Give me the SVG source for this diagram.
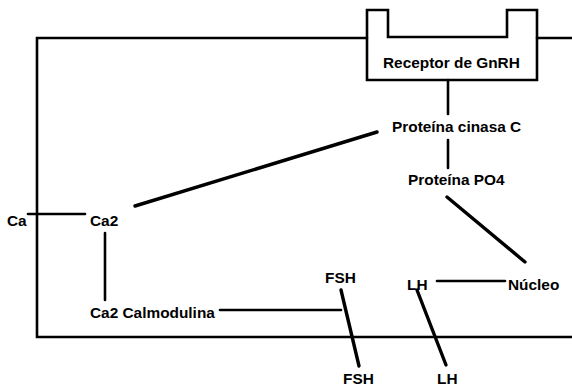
<svg xmlns="http://www.w3.org/2000/svg" width="572" height="386" viewBox="0 0 572 386">
<style>
  text { font-family: "Liberation Sans", Arial, sans-serif; font-weight: bold; font-size: 15.4px; fill: #000; }
  .ln { fill: none; stroke: #000; stroke-width: 2.6; stroke-linecap: round; stroke-linejoin: miter; }
  .thick { stroke-width: 3.4; }
</style>
<rect width="572" height="386" fill="#fff"/>
<g id="cell">
  <path class="ln" d="M367 38 H37 V337 H572 M537 38 H572"/>
</g>
<g id="receptor">
  <path class="ln" d="M388 10 V37 H507 V10 H537 V80 H367 V10 Z"/>
  <text x="383" y="68">Receptor de GnRH</text>
</g>
<g id="pkc"><text x="392" y="132">Proteína cinasa C</text></g>
<g id="po4"><text x="408" y="185">Proteína PO4</text></g>
<g id="ca"><text x="7" y="226">Ca</text></g>
<g id="ca2"><text x="90" y="226">Ca2</text></g>
<g id="calmodulina"><text x="90" y="318">Ca2 Calmodulina</text></g>
<g id="fsh-in"><text x="325" y="283">FSH</text></g>
<g id="fsh-out"><text x="343" y="384">FSH</text></g>
<g id="lh-in"><text x="407" y="290">LH</text></g>
<g id="lh-out"><text x="437" y="384">LH</text></g>
<g id="nucleo"><text x="508" y="290">Núcleo</text></g>
<g id="connectors">
  <path class="ln" d="M448 80 V114"/>
  <path class="ln" d="M448 140 V168"/>
  <path class="ln thick" d="M135 206 L377 132"/>
  <path class="ln" d="M28 214 H85"/>
  <path class="ln" d="M105 233 V300"/>
  <path class="ln" d="M220 310 H341"/>
  <path class="ln thick" d="M341 290 L359 366"/>
  <path class="ln thick" d="M417 290 L446 365"/>
  <path class="ln" d="M437 281 H505"/>
  <path class="ln thick" d="M447 197 L525 262"/>
</g>
</svg>
